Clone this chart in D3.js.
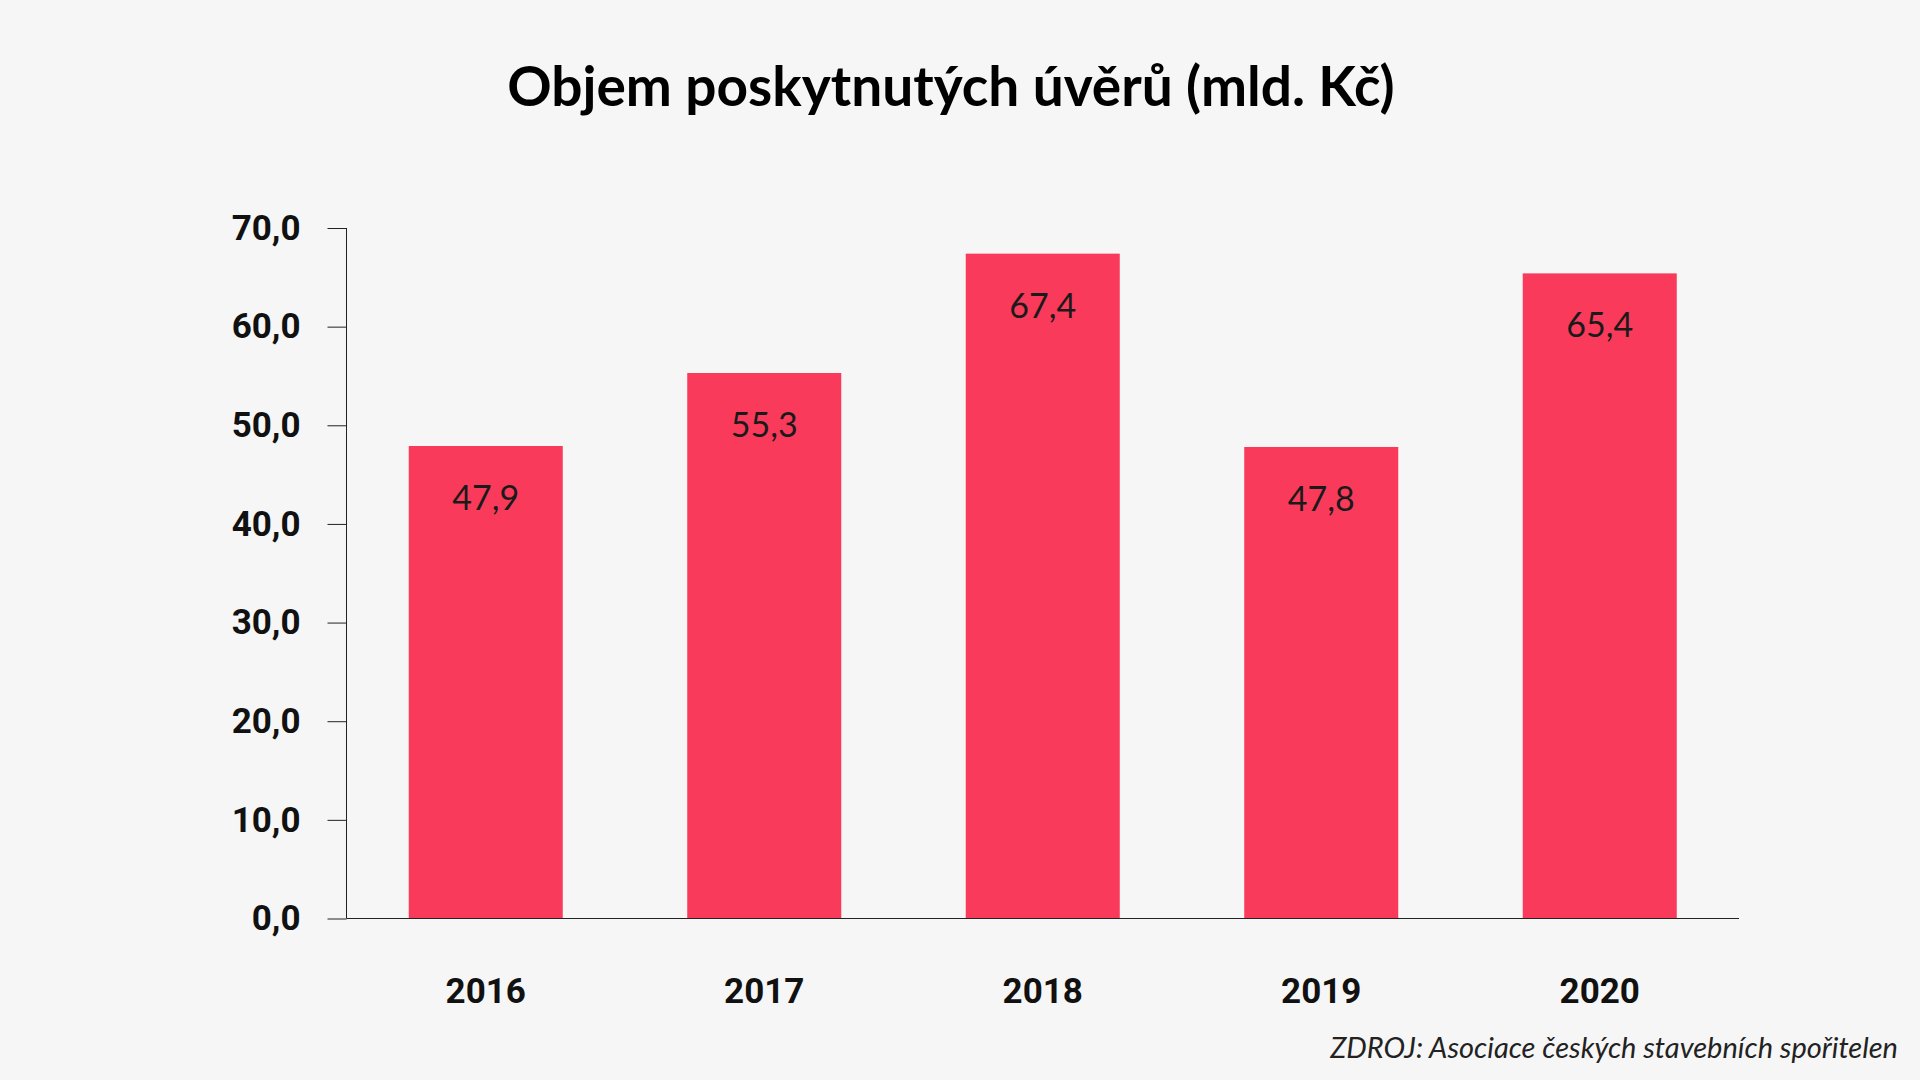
<!DOCTYPE html>
<html>
<head>
<meta charset="utf-8">
<script src="https://cdn.jsdelivr.net/npm/d3@7"></script>
<style>
  body { margin: 0; background: #f6f6f6; }
  svg { display: block; }
</style>
</head>
<body>
<div id="chart"></div>
<script>
    var years = ["2016", "2017", "2018", "2019", "2020"];
    var volumes = [47.9, 55.3, 67.4, 47.8, 65.4];
    var yTicks = [0, 10, 20, 30, 40, 50, 60, 70];

    var barColor = "#f93a5b";
    var W = 1920, H = 1080;
    var plotL = 346.5, plotR = 1739, plotT = 228, plotB = 918.5;

    var svg = d3.select("#chart").append("svg")
      .attr("width", W)
      .attr("height", H)
      .style("background", "#f6f6f6");

    var data = years.map(function (y, i) { return { year: y, value: volumes[i] }; });

    var x = d3.scaleBand().domain(years).range([plotL, plotR]).paddingInner(0.447).paddingOuter(0.2235);
    var y = d3.scaleLinear().domain([0, 70]).range([plotB, plotT]);

    var fmt = function (v) { return d3.format(".1f")(v).replace(".", ","); };

    // bars
    svg.selectAll("rect.bar")
      .data(data)
      .enter()
      .append("rect")
        .attr("class", "bar")
        .attr("x", function (d) { return x(d.year); })
        .attr("y", function (d) { return y(d.value); })
        .attr("width", x.bandwidth())
        .attr("height", function (d) { return y(0) - y(d.value); })
        .style("fill", barColor);

    // value labels inside bars
    svg.selectAll("text.val")
      .data(data)
      .enter()
      .append("text")
        .attr("class", "val")
        .attr("x", function (d) { return x(d.year) + x.bandwidth() / 2; })
        .attr("y", function (d) { return y(d.value) + 64; })
        .style("text-anchor", "middle")
        .style("font-family", "Lato")
        .style("font-weight", "400")
        .style("font-size", "34px")
        .style("fill", "#1a1a1a")
        .text(function (d) { return fmt(d.value); });

    // y axis
    var yAxis = svg.append("g")
      .attr("transform", "translate(" + plotL + ",0)")
      .call(d3.axisLeft(y).tickValues(yTicks).tickSize(19).tickPadding(27).tickFormat(fmt));
    yAxis.select(".domain").attr("d", "M0," + plotT + "V" + plotB).style("stroke", "#222");
    yAxis.selectAll(".tick line").style("stroke", "#222");
    yAxis.selectAll("text")
      .style("font-family", "Roboto")
      .style("font-weight", "bold")
      .style("font-size", "35px")
      .style("fill", "#111");

    // x axis
    var xAxis = svg.append("g")
      .attr("transform", "translate(0," + plotB + ")")
      .call(d3.axisBottom(x).tickSize(0).tickPadding(60));
    xAxis.select(".domain").attr("d", "M" + plotL + ",0H" + plotR).style("stroke", "#222");
    xAxis.selectAll("text")
      .style("font-family", "Roboto")
      .style("font-weight", "bold")
      .style("font-size", "35px")
      .style("fill", "#111");

    // title
    svg.append("text")
      .attr("x", 951)
      .attr("y", 106)
      .style("text-anchor", "middle")
      .style("font-family", "Lato")
      .style("font-weight", "bold")
      .style("font-size", "55px")
      .style("fill", "#000")
      .text("Objem poskytnutých úvěrů (mld. Kč)");

    // source
    svg.append("text")
      .attr("x", 1898)
      .attr("y", 1058)
      .style("text-anchor", "end")
      .style("font-family", "Lato")
      .style("font-style", "italic")
      .style("font-size", "29px")
      .style("fill", "#222")
      .text("ZDROJ: Asociace českých stavebních spořitelen");
</script>
</body>
</html>
